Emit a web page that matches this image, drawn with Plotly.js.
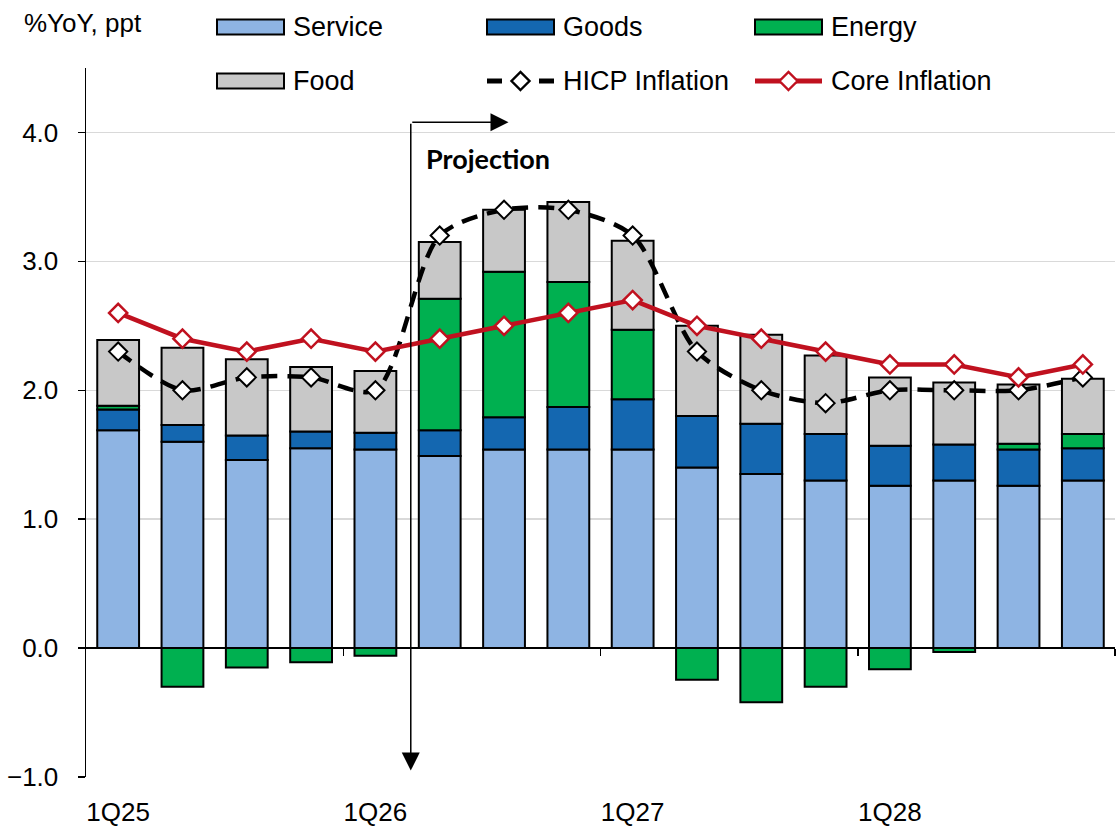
<!DOCTYPE html>
<html>
<head>
<meta charset="utf-8">
<script src="https://cdn.plot.ly/plotly-3.0.1.min.js"></script>
<style>html,body{margin:0;padding:0;background:#fff;}#chart{width:1120px;height:827px;}</style>
</head>
<body>
<div id="chart"></div>
<script>
// ---- data ----
const categories = ['1Q25','2Q25','3Q25','4Q25','1Q26','2Q26','3Q26','4Q26','1Q27','2Q27','3Q27','4Q27','1Q28','2Q28','3Q28','4Q28'];
const tickLabels = ['1Q25','1Q26','1Q27','1Q28'];
const service = [1.69,1.60,1.46,1.55,1.54,1.49,1.54,1.54,1.54,1.40,1.35,1.30,1.26,1.30,1.26,1.30];
const goods   = [0.16,0.13,0.19,0.13,0.13,0.20,0.25,0.33,0.39,0.40,0.39,0.36,0.31,0.28,0.28,0.25];
const energy  = [0.03,-0.30,-0.15,-0.11,-0.06,1.02,1.13,0.97,0.54,-0.245,-0.42,-0.30,-0.165,-0.03,0.045,0.11];
const food    = [0.51,0.60,0.59,0.50,0.48,0.44,0.48,0.62,0.69,0.70,0.69,0.61,0.53,0.48,0.46,0.43];
const hicp    = [2.3,2.0,2.1,2.1,2.0,3.2,3.4,3.4,3.2,2.3,2.0,1.9,2.0,2.0,2.0,2.1];
const core    = [2.6,2.4,2.3,2.4,2.3,2.4,2.5,2.6,2.7,2.5,2.4,2.3,2.2,2.2,2.1,2.2];
const seriesNames = ['Service','Goods','Energy','Food','HICP Inflation','Core Inflation'];

// ---- styles ----
const FONT = 'Liberation Sans, Arial, sans-serif';
const colors = {Service:'#8EB4E3', Goods:'#1467B0', Energy:'#00B050', Food:'#C8C8C8', HICP:'#000000', Core:'#C0111F'};
const yRange = [-1, 4.5];
const nCat = categories.length;

function barTrace(name, vals, color){
  return {type:'bar', name:name, x:categories, y:vals,
    marker:{color:color, line:{color:'#000', width:2}}, hoverinfo:'x+y+name'};
}
const traces = [
  barTrace('Service', service, colors.Service),
  barTrace('Goods', goods, colors.Goods),
  barTrace('Energy', energy, colors.Energy),
  barTrace('Food', food, colors.Food),
  {type:'scatter', mode:'lines+markers', name:'HICP Inflation', x:categories, y:hicp,
    line:{color:colors.HICP, width:4.5, dash:'16px,10px', shape:'spline', smoothing:0.8},
    marker:{symbol:'diamond', size:14, color:'#fff', line:{color:'#000', width:2}}},
  {type:'scatter', mode:'lines+markers', name:'Core Inflation', x:categories, y:core,
    line:{color:colors.Core, width:4.5},
    marker:{symbol:'diamond', size:14, color:'#fff', line:{color:colors.Core, width:2.5}}},
  // helper (empty) trace to host the zero-line tick axis
  {type:'scatter', x:[], y:[], xaxis:'x2', yaxis:'y', showlegend:false, hoverinfo:'skip'}
];

// pixel -> paper helpers for decorations
const M = {l:86, r:5, t:68, b:50};
const W = 1120, H = 827;
const pw = W - M.l - M.r, ph = H - M.t - M.b;
const PX = x => (x - M.l) / pw;
const PY = y => (H - M.b - y) / ph;

// manual legend
const legendItems = [
  {name:seriesNames[0], kind:'bar', color:colors.Service, col:0, row:0},
  {name:seriesNames[1], kind:'bar', color:colors.Goods, col:1, row:0},
  {name:seriesNames[2], kind:'bar', color:colors.Energy, col:2, row:0},
  {name:seriesNames[3], kind:'bar', color:colors.Food, col:0, row:1},
  {name:seriesNames[4], kind:'dash', color:colors.HICP, col:1, row:1},
  {name:seriesNames[5], kind:'line', color:colors.Core, col:2, row:1}
];
const colLeft = [217, 487, 755];
const rowY = [27, 81];
const shapes = [], annotations = [];
legendItems.forEach(it => {
  const x0 = colLeft[it.col], yc = rowY[it.row];
  if (it.kind === 'bar') {
    shapes.push({type:'rect', xref:'paper', yref:'paper', x0:PX(x0), x1:PX(x0+67), y0:PY(yc-7.5), y1:PY(yc+7.5),
      fillcolor:it.color, line:{color:'#000', width:2}});
  } else {
    const mc = it.color;
    if (it.kind === 'dash') {
      shapes.push({type:'line', xref:'paper', yref:'paper', x0:PX(x0), x1:PX(x0+15), y0:PY(yc), y1:PY(yc), line:{color:mc, width:5}});
      shapes.push({type:'line', xref:'paper', yref:'paper', x0:PX(x0+52), x1:PX(x0+67), y0:PY(yc), y1:PY(yc), line:{color:mc, width:5}});
    } else {
      shapes.push({type:'line', xref:'paper', yref:'paper', x0:PX(x0), x1:PX(x0+67), y0:PY(yc), y1:PY(yc), line:{color:mc, width:5}});
    }
    shapes.push({type:'path', xref:'paper', yref:'paper', xsizemode:'pixel', ysizemode:'pixel',
      xanchor:PX(x0+33.5), yanchor:PY(yc), path:'M0,-9L9,0L0,9L-9,0Z',
      fillcolor:'#fff', line:{color:mc, width:2.4}});
  }
  annotations.push({xref:'paper', yref:'paper', x:PX(x0+74), y:PY(yc), xanchor:'left', yanchor:'middle',
    text:it.name, showarrow:false, font:{family:FONT, size:27, color:'#000'}});
});

// unit label
annotations.push({xref:'paper', yref:'paper', x:PX(22), y:PY(23), xanchor:'left', yanchor:'middle',
  text:'%YoY, ppt', showarrow:false, font:{family:FONT, size:26, color:'#000'}});

// projection marker
const projX = 4.55, projTop = 4.08;
annotations.push({xref:'x', yref:'y', axref:'x', ayref:'y', x:projX, y:-0.95, ax:projX, ay:projTop,
  text:'', showarrow:true, arrowhead:2, arrowsize:2.4, arrowwidth:1.5, arrowcolor:'#000', standoff:0, startstandoff:0});
annotations.push({xref:'x', yref:'y', axref:'x', ayref:'y', x:6.07, y:projTop, ax:projX, ay:projTop,
  text:'', showarrow:true, arrowhead:2, arrowsize:2.4, arrowwidth:1.5, arrowcolor:'#000', standoff:0, startstandoff:0});
annotations.push({xref:'x', yref:'y', axref:'x', ayref:'y', x:projX, y:projTop, ax:projX, ay:projTop - 0.001,
  text:'', showarrow:false});
annotations.push({xref:'x', yref:'y', x:4.76, y:3.8, xanchor:'left', yanchor:'middle',
  text:'<b>Projection</b>', showarrow:false, font:{family:'Lato, Carlito, sans-serif', size:27, color:'#000'}});

const layout = {
  width:W, height:H, margin:M, showlegend:false,
  paper_bgcolor:'#fff', plot_bgcolor:'#fff',
  barmode:'relative', bargap:0.35,
  font:{family:FONT, size:26, color:'#000'},
  xaxis:{type:'category', range:[-0.5, nCat-0.5], tickvals:tickLabels, ticktext:tickLabels,
    ticks:'outside', ticklen:12, tickcolor:'rgba(0,0,0,0)', showline:false, showgrid:false, zeroline:false,
    tickfont:{family:FONT, size:26, color:'#000'}, fixedrange:true},
  xaxis2:{overlaying:'x', anchor:'free', position:(0 - yRange[0])/(yRange[1]-yRange[0]),
    range:[-0.5, nCat-0.5], tickvals:[3.5,7.5,11.5,15.5], ticks:'outside', ticklen:7, tickwidth:1.5, tickcolor:'#000',
    showticklabels:false, showgrid:false, zeroline:false, showline:false},
  yaxis:{range:yRange, dtick:1, tick0:0, tickformat:'.1f', showline:true, linecolor:'#000', linewidth:1.5,
    ticks:'outside', ticklen:7, tickwidth:1.5, tickcolor:'#000', ticklabelstandoff:14,
    showgrid:true, gridcolor:'#D9D9D9', gridwidth:1.5,
    zeroline:true, zerolinecolor:'#000', zerolinewidth:1.5,
    tickfont:{family:FONT, size:26, color:'#000'}},
  shapes:shapes, annotations:annotations
};

Plotly.newPlot('chart', traces, layout, {displayModeBar:false, staticPlot:true});
</script>
</body>
</html>
